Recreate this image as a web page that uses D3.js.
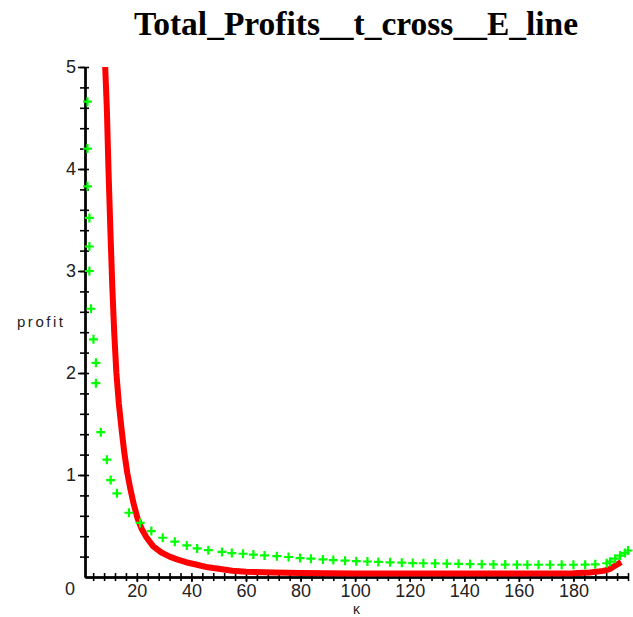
<!DOCTYPE html>
<html>
<head>
<meta charset="utf-8">
<script src="https://cdn.jsdelivr.net/npm/d3@7"></script>
<style>
  html, body { margin: 0; padding: 0; background: #ffffff; }
  svg { display: block; }
</style>
</head>
<body>
<div id="chart"></div>
<script>
// ---- Data ----
const titleText = "Total_Profits__t_cross__E_line";
const xLabel = "κ";
const yLabel = "profit";

const xTickValues = [20, 40, 60, 80, 100, 120, 140, 160, 180];
const yTickValues = [1, 2, 3, 4, 5];

// red solid curve
const redX = [8.4, 9.0, 9.6, 10.3, 11.0, 11.7, 12.5, 13.4, 14.4, 15.4, 16.5, 17.5, 18.8, 20.2, 21.8, 23.5,
              26, 29, 32, 35, 38, 42, 46, 50, 55, 60, 70, 80, 100, 120, 140, 160, 180, 186, 191, 193.5, 195.5, 197.5];
const redY = [5.0, 4.6, 4.0, 3.4, 2.85, 2.4, 2.0, 1.7, 1.45, 1.22, 1.02, 0.88, 0.72, 0.58, 0.47, 0.39,
              0.30, 0.24, 0.20, 0.17, 0.145, 0.12, 0.095, 0.08, 0.062, 0.052, 0.044, 0.038, 0.035, 0.035, 0.035, 0.035, 0.036, 0.045, 0.06, 0.08, 0.115, 0.145];

// green point series (+ markers)
const greenX = [1.9, 1.9, 1.9, 2.6, 2.6, 2.6, 3.2, 4.1, 5.0, 5.0, 6.8, 9.0, 10.4, 12.7, 17.1, 21.2, 25.3, 29.5,
                33.9, 38.3, 42.1, 46.2, 51.2, 54.8, 58.9, 62.7, 66.8, 71.3, 75.6, 79.8, 83.8, 88.2, 92.0, 96.3,
                100.4, 104.5, 108.5, 112.8, 117.1, 121.1, 125.0, 129.3, 133.6, 137.9, 142.1, 146.4, 150.7, 155.0,
                159.3, 163.1, 167.2, 171.4, 175.7, 180.0, 184.3, 188.0, 192.2, 193.4, 195.3, 197.1, 198.9, 200];
const greenY = [4.66, 4.20, 3.83, 3.52, 3.24, 3.00, 2.63, 2.33, 2.10, 1.90, 1.42, 1.15, 0.95, 0.82, 0.63, 0.53, 0.45, 0.385,
                0.346, 0.31, 0.28, 0.263, 0.246, 0.235, 0.228, 0.22, 0.212, 0.204, 0.196, 0.186, 0.18, 0.172, 0.166, 0.16,
                0.155, 0.152, 0.148, 0.144, 0.14, 0.137, 0.135, 0.133, 0.131, 0.129, 0.127, 0.125, 0.123, 0.122,
                0.121, 0.12, 0.12, 0.12, 0.12, 0.12, 0.121, 0.124, 0.135, 0.15, 0.18, 0.21, 0.235, 0.26];

// ---- Layout ----
const W = 633, H = 617;
const svg = d3.select("#chart").append("svg").attr("width", W).attr("height", H);

const x = d3.scaleLinear().domain([1, 200]).range([85, 628]);
const y = d3.scaleLinear().domain([0, 5]).range([577, 67]);

const labelFont = "'Liberation Sans', Arial, sans-serif";

// Title
svg.append("text")
  .attr("x", 356).attr("y", 35)
  .attr("text-anchor", "middle")
  .style("font-family", "'Liberation Serif', 'Times New Roman', serif")
  .style("font-weight", "bold")
  .style("font-size", "33.5px")
  .text(titleText);

// ---- Axes ----
const minorX = d3.range(4, 201, 4);
const minorY = d3.range(0.2, 5.01, 0.2).map(v => +v.toFixed(1));

function styleAxis(g) {
  g.select(".domain").attr("stroke", "#000").attr("stroke-width", 2);
  g.selectAll(".tick line").attr("stroke", "#000").attr("stroke-width", 1.6);
}

// x axis: minor ticks crossing the line
svg.append("g").attr("transform", `translate(0,${y(0)})`)
  .call(d3.axisBottom(x).tickValues(minorX).tickSize(4).tickFormat("").tickSizeOuter(0))
  .call(styleAxis);
svg.append("g").attr("transform", `translate(0,${y(0)})`)
  .call(d3.axisTop(x).tickValues(minorX).tickSize(4).tickFormat("").tickSizeOuter(0))
  .call(styleAxis);
// x axis labels
const xAx = svg.append("g").attr("transform", `translate(0,${y(0)})`)
  .call(d3.axisBottom(x).tickValues(xTickValues).tickSize(5).tickPadding(2).tickSizeOuter(0))
  .call(styleAxis);
xAx.selectAll("text").style("font-family", labelFont).style("font-size", "18px").attr("fill", "#222");

// y axis: minor ticks crossing the line
svg.append("g").attr("transform", `translate(${x(1)},0)`)
  .call(d3.axisLeft(y).tickValues(minorY).tickSize(5).tickFormat("").tickSizeOuter(0))
  .call(styleAxis);
svg.append("g").attr("transform", `translate(${x(1)},0)`)
  .call(d3.axisRight(y).tickValues(minorY).tickSize(4).tickFormat("").tickSizeOuter(0))
  .call(styleAxis);
const yAx = svg.append("g").attr("transform", `translate(${x(1)},0)`)
  .call(d3.axisLeft(y).tickValues(yTickValues).tickSize(7).tickPadding(2).tickFormat(d3.format("d")).tickSizeOuter(0))
  .call(styleAxis);
yAx.selectAll("text").style("font-family", labelFont).style("font-size", "18px").attr("fill", "#222");

// origin label
svg.append("text")
  .attr("x", x(1) - 15).attr("y", y(0) + 18)
  .attr("text-anchor", "middle")
  .style("font-family", labelFont).style("font-size", "18px").attr("fill", "#222")
  .text("0");

// axis titles
svg.append("text")
  .attr("x", (x(1) + x(200)) / 2).attr("y", 613.5)
  .attr("text-anchor", "middle")
  .style("font-family", labelFont).style("font-size", "14px").attr("fill", "#222")
  .text(xLabel);

svg.append("text")
  .attr("x", 17).attr("y", 327)
  .attr("textLength", 46).attr("lengthAdjust", "spacing")
  .style("font-family", labelFont).style("font-size", "15px").attr("fill", "#222")
  .text(yLabel);

// ---- Red curve ----
const redData = redX.map((v, i) => [v, redY[i]]);
const redLine = d3.line().x(d => x(d[0])).y(d => y(d[1])).curve(d3.curveLinear);
svg.append("path")
  .datum(redData)
  .attr("fill", "none")
  .attr("stroke", "#ff0000")
  .attr("stroke-width", 6)
  .attr("stroke-linejoin", "round")
  .attr("d", redLine);

// ---- Green + markers ----
const greenData = greenX.map((v, i) => [v, greenY[i]]);
svg.append("g").selectAll("path")
  .data(greenData)
  .join("path")
  .attr("transform", d => `translate(${x(d[0])},${y(d[1])})`)
  .attr("d", "M-4.5,0H4.5M0,-4.5V4.5")
  .attr("stroke", "#00ff00")
  .attr("stroke-width", 2.2)
  .attr("fill", "none");
</script>
</body>
</html>
